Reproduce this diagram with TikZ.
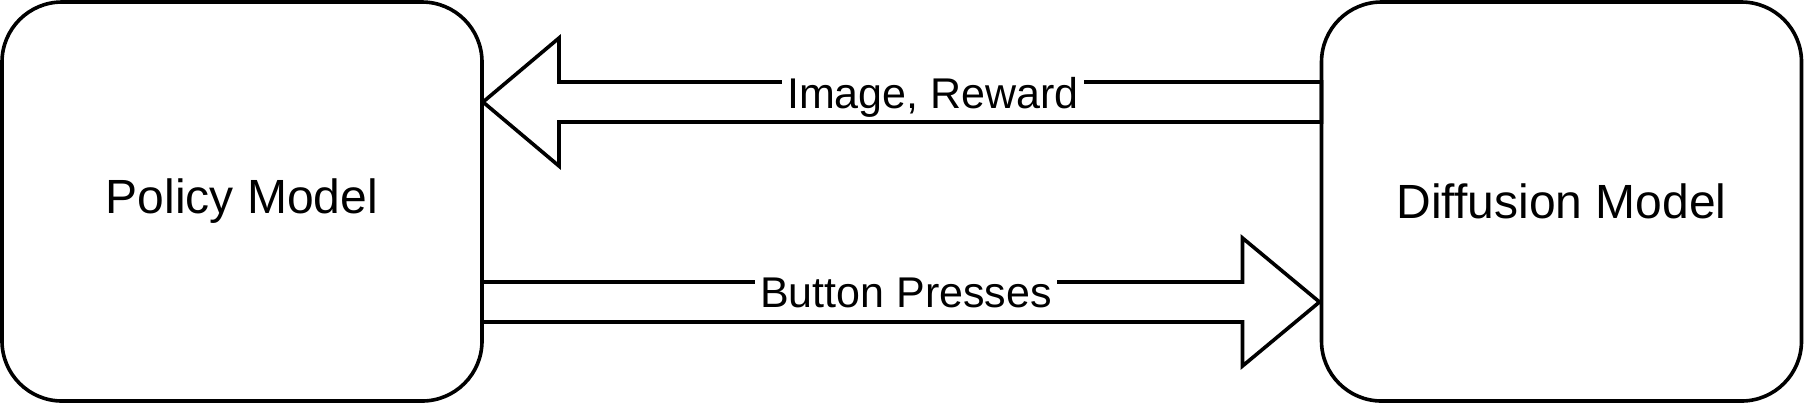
\documentclass[tikz,border=0pt]{standalone}
\usepackage{fontspec}
\setmainfont{Liberation Sans}
\usetikzlibrary{calc}
\begin{document}
\begin{tikzpicture}[x=0.5pt,y=-0.5pt,
  modelbox/.style={draw=black, line width=1.8pt, rounded corners=30pt, fill=white,
    minimum width=240pt, minimum height=199.5pt, inner sep=0pt, outer sep=0pt,
    font=\fontsize{24pt}{28pt}\selectfont},
  blockarrow/.style={draw=black, line width=1.8pt, line join=miter},
  lbl/.style={fill=white, inner xsep=2.5pt, inner ysep=1pt, outer sep=0pt,
    font=\fontsize{21.5pt}{25pt}\selectfont}]
\useasboundingbox (0,0) rectangle (1804,404);
\node[modelbox] (policy) at (242,201.5) {Policy Model};
\node[modelbox] (diffusion) at (1561.5,201.5) {Diffusion Model};
% top arrow: Diffusion -> Policy
\coordinate (t1) at ($(policy.east)+(1,-99.5)$);
\coordinate (s1) at ($(diffusion.west)+(0,-99.5)$);
\draw[blockarrow] (t1) -- ++(76,-64) -- ++(0,44) -- ($(s1)+(0,-20)$)
  -- ($(s1)+(0,20)$) -- ($(t1)+(76,20)$) -- ++(0,44) -- cycle;
% bottom arrow: Policy -> Diffusion
\coordinate (s2) at ($(policy.east)+(0,100.5)$);
\coordinate (t2) at ($(diffusion.west)+(-2,100.5)$);
\draw[blockarrow] ($(s2)+(0,-20)$) -- ($(t2)+(-77,-20)$) -- ++(0,-44) -- (t2)
  -- ($(t2)+(-77,64)$) -- ++(0,-44) -- ($(s2)+(0,20)$) -- cycle;
\node[lbl, anchor=base] (l1) at (933,108) {Image, Reward};
\node[lbl, anchor=base] (l2) at (906,307) {Button Presses};
\end{tikzpicture}
\end{document}
